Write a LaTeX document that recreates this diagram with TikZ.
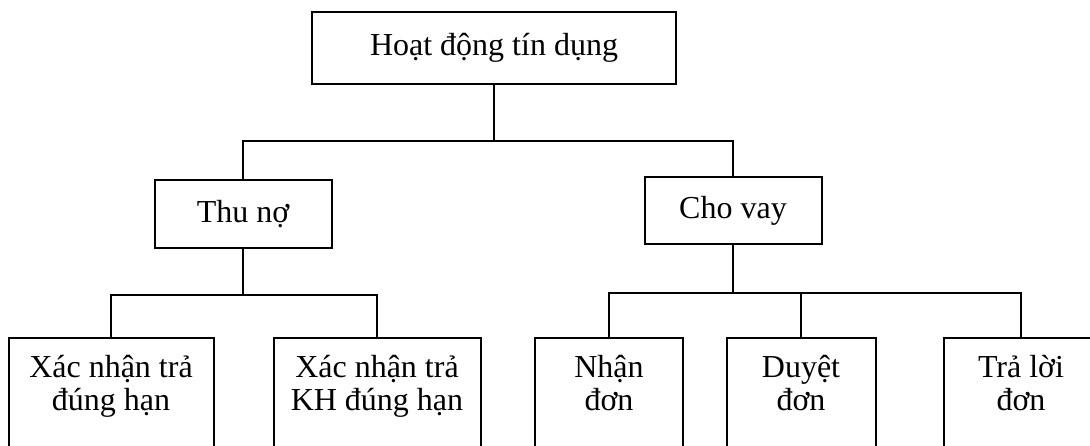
\documentclass[tikz,border=0pt]{standalone}
\usepackage{fontspec}
\setmainfont{Liberation Serif}
\usepackage{tikz}
\usetikzlibrary{positioning}

\begin{document}
\begin{tikzpicture}[
    x=1pt, y=-1pt, line width=2pt,
    unit/.style={rectangle, draw=black, inner sep=0pt, align=center, font=\fontsize{32}{33}\selectfont},
    task/.style={unit, anchor=north, text height=72pt, text depth=150pt}
]
\useasboundingbox (0,0) rectangle (1090,446);

% Top level
\node[unit, minimum width=364pt, minimum height=72pt] (hoat) at (494,48) {Hoạt động tín dụng};

% Second level
\node[unit, minimum width=177pt, minimum height=68pt] (thuno) at (243,214) {Thu nợ};
\node[unit, minimum width=177pt, minimum height=67pt] (chovay) at (733,211) {Cho vay};

% Third level
\node[task, minimum width=205pt] (xnhan) at (111,337) {Xác nhận trả\\đúng hạn};
\node[task, minimum width=207pt] (xnkh) at (377,337) {Xác nhận trả\\KH đúng hạn};
\node[task, minimum width=148pt] (nhan) at (609,337) {Nhận\\đơn};
\node[task, minimum width=149pt] (duyet) at (801,337) {Duyệt\\đơn};
\node[task, minimum width=154pt] (traloi) at (1021,337) {Trả lời\\đơn};

% Connectors
\coordinate (split1) at (494,141);
\coordinate (split2) at (243,295);
\coordinate (split3) at (733,293);
\draw (hoat.south) -- (split1);
\draw (thuno.north) |- (split1) -| (chovay.north);
\draw (thuno.south) -- (split2);
\draw (xnhan.north) |- (split2) -| (xnkh.north);
\draw (chovay.south) -- (split3);
\draw (nhan.north) |- (split3) -| (traloi.north);
\draw (duyet.north) -- (duyet.north |- split3);
\end{tikzpicture}
\end{document}
